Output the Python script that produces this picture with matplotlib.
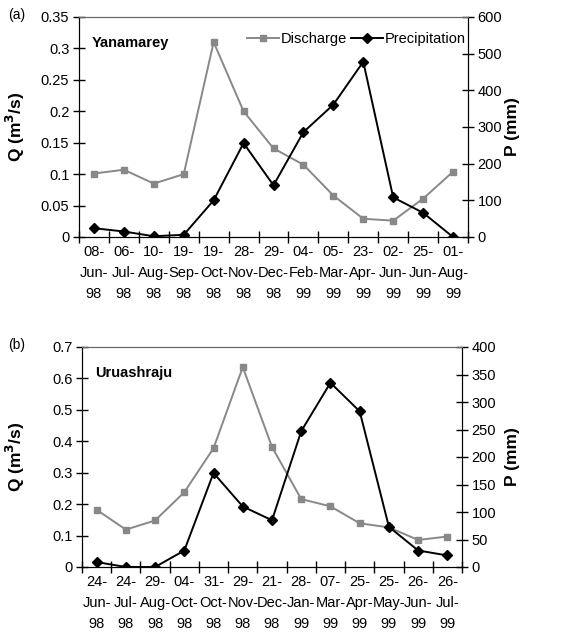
import matplotlib.pyplot as plt
import numpy as np

plt.rcParams['font.family'] = ['Liberation Sans', 'DejaVu Sans']

# panel (a) Yanamarey
dates_a = ['08-\nJun-\n98', '06-\nJul-\n98', '10-\nAug-\n98', '19-\nSep-\n98', '19-\nOct-\n98',
           '28-\nNov-\n98', '29-\nDec-\n98', '04-\nFeb-\n99', '05-\nMar-\n99', '23-\nApr-\n99',
           '02-\nJun-\n99', '25-\nJun-\n99', '01-\nAug-\n99']
q_a = [0.101, 0.107, 0.085, 0.100, 0.310, 0.200, 0.141, 0.115, 0.066, 0.029, 0.026, 0.061, 0.104]
p_a = [24, 15, 2, 6, 100, 256, 141, 286, 361, 478, 108, 66, 0]

# panel (b) Uruashraju
dates_b = ['24-\nJun-\n98', '24-\nJul-\n98', '29-\nAug-\n98', '04-\nOct-\n98', '31-\nOct-\n98',
           '29-\nNov-\n98', '21-\nDec-\n98', '28-\nJan-\n99', '07-\nMar-\n99', '25-\nApr-\n99',
           '25-\nMay-\n99', '26-\nJun-\n99', '26-\nJul-\n99']
q_b = [0.182, 0.119, 0.148, 0.238, 0.378, 0.636, 0.382, 0.216, 0.193, 0.139, 0.126, 0.086, 0.097]
p_b = [9, 0, 0, 30, 171, 110, 85, 247, 335, 283, 73, 30, 21]

fig = plt.figure(figsize=(5.75, 6.32), dpi=100)
W, H = 575, 632

def panel(rect, dates, q, p, qmax, qstep, pmax, pstep, site, tag, legend):
    l, t, r, b = rect
    ax = fig.add_axes([l / W, 1 - b / H, (r - l) / W, (b - t) / H])
    x = np.arange(len(dates))
    ax.plot(x, q, color='#888888', marker='s', ms=5, lw=1.4, label='Discharge')
    ax.set_xlim(-0.5, len(dates) - 0.5)
    ax.set_ylim(0, qmax)
    ax.set_yticks(np.arange(0, qmax + qstep / 2, qstep))
    ax.set_yticklabels(['0'] + ['%g' % v for v in np.arange(qstep, qmax + qstep / 2, qstep)])
    ax.set_xticks(x)
    ax.set_xticklabels(dates, linespacing=1.6)
    ax.set_xticks(np.arange(-0.5, len(dates)), minor=True)
    ax.tick_params(axis='x', which='major', length=0, pad=6, labelsize=10.5)
    ax.tick_params(axis='x', which='minor', direction='inout', length=8, width=1)
    ax.tick_params(axis='y', direction='inout', length=8, width=1, labelsize=10.5, pad=3)
    ax.set_ylabel('Q (m$^\\mathbf{3}$/s)', fontsize=12.5, fontweight='bold')
    ax.yaxis.set_label_coords((27 - l) / (r - l), 0.5)
    ax.spines['top'].set_color('#666666')
    ax2 = ax.twinx()
    ax2.plot(x, p, color='black', marker='D', ms=5, lw=1.4, label='Precipitation')
    ax2.set_ylim(0, pmax)
    ax2.set_yticks(np.arange(0, pmax + 1, pstep))
    ax2.tick_params(axis='y', direction='inout', length=8, width=1, labelsize=10.5, pad=3)
    ax2.set_ylabel('P (mm)', fontsize=12.5, fontweight='bold')
    ax2.yaxis.set_label_coords((505 - l) / (r - l), 0.5)
    ax2.spines['top'].set_color('#666666')
    ax.text(13 / (r - l), 0.88, site, transform=ax.transAxes, fontsize=10.5,
            fontweight='bold', va='center')
    fig.text(8 / W, 1 - (t - 2) / H, tag, fontsize=10, va='center')
    if legend:
        h1, l1 = ax.get_legend_handles_labels()
        h2, l2 = ax2.get_legend_handles_labels()
        ax2.legend(h1 + h2, l1 + l2, loc='center right', ncol=2, frameon=False, fontsize=10.5,
                   handlelength=2.2, handletextpad=0.1, columnspacing=0.3,
                   borderaxespad=0.0, borderpad=0.3, bbox_to_anchor=(1.005, 0.9))

panel((79, 17, 468, 237), dates_a, q_a, p_a, 0.35, 0.05, 600, 100, 'Yanamarey', '(a)', True)
panel((82, 347, 462, 567), dates_b, q_b, p_b, 0.7, 0.1, 400, 50, 'Uruashraju', '(b)', False)

fig.savefig('out.png', dpi=100)
